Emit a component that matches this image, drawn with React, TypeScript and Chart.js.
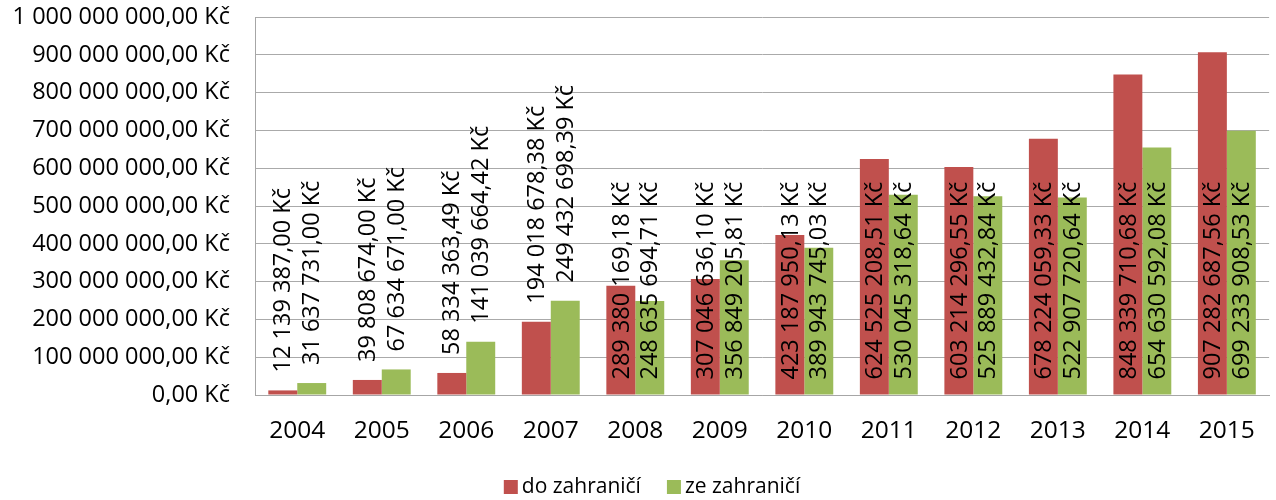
import React, { useEffect, useRef } from "react";
import { Chart, registerables } from "chart.js";

Chart.register(...registerables);

const categories = ["2004", "2005", "2006", "2007", "2008", "2009", "2010", "2011", "2012", "2013", "2014", "2015"];
const seriesNames = ["do zahraničí", "ze zahraničí"];
const doZahranici = [
  12139387.0, 39808674.0, 58334363.49, 194018678.38, 289380169.18, 307046636.1,
  423187950.13, 624525208.51, 603214296.55, 678224059.33, 848339710.68, 907282687.56,
];
const zeZahranici = [
  31637731.0, 67634671.0, 141039664.42, 249432698.39, 248635694.71, 356849205.81,
  389943745.03, 530045318.64, 525889432.84, 522907720.64, 654630592.08, 699233908.53,
];
const yMin = 0;
const yMax = 1000000000;
const yStep = 100000000;
// categories whose value labels sit at the bar base (others sit above the bar)
const insideBaseCategories = ["2008", "2009", "2010", "2011", "2012", "2013", "2014", "2015"];

const COLORS = ["#C0504D", "#9BBB59"];
const FONT = "'Open Sans', 'Liberation Sans', sans-serif";

function groupDigits(intStr: string): string {
  return intStr.replace(/\B(?=(\d{3})+(?!\d))/g, " ");
}
function formatKc(v: number): string {
  const [i, d] = Math.abs(v).toFixed(2).split(".");
  return (v < 0 ? "-" : "") + groupDigits(i) + "," + d + " Kč";
}

const valueLabelPlugin = {
  id: "valueLabels",
  afterDatasetsDraw(chart: any) {
    const ctx = chart.ctx;
    ctx.save();
    ctx.font = `23.5px ${FONT}`;
    ctx.fillStyle = "#000";
    ctx.textAlign = "left";
    ctx.textBaseline = "middle";
    chart.data.datasets.forEach((ds: any, di: number) => {
      const meta = chart.getDatasetMeta(di);
      meta.data.forEach((bar: any, i: number) => {
        const p = bar.getProps(["x", "y", "base"], true);
        const inside = insideBaseCategories.includes(chart.data.labels[i]);
        const startY = inside ? p.base - 15 : p.y - 18;
        ctx.save();
        ctx.translate(p.x, startY);
        ctx.rotate(-Math.PI / 2);
        ctx.fillText(formatKc(ds.data[i]), 0, 1);
        ctx.restore();
      });
    });
    ctx.restore();
  },
};

const customLegendPlugin = {
  id: "customLegend",
  afterDraw(chart: any) {
    const ctx = chart.ctx;
    ctx.save();
    ctx.font = `21px ${FONT}`;
    ctx.textBaseline = "middle";
    ctx.textAlign = "left";
    const box = 14;
    const gapBoxText = 4;
    const gapItems = 26;
    const cy = 487;
    const items = chart.data.datasets.map((ds: any) => ({
      label: ds.label,
      color: ds.backgroundColor,
      w: ctx.measureText(ds.label).width,
    }));
    const total = items.reduce((s: number, it: any) => s + box + gapBoxText + it.w, 0) + gapItems * (items.length - 1);
    let x = (chart.width - total) / 2 + 14;
    items.forEach((it: any) => {
      ctx.fillStyle = it.color;
      ctx.fillRect(x, cy - box / 2, box, box);
      ctx.fillStyle = "#000";
      ctx.fillText(it.label, x + box + gapBoxText, cy);
      x += box + gapBoxText + it.w + gapItems;
    });
    ctx.restore();
  },
};

export default function App() {
  const ref = useRef<HTMLCanvasElement | null>(null);
  useEffect(() => {
    if (!ref.current) return;
    Chart.defaults.font.family = FONT;
    Chart.defaults.color = "#000";
    const chart = new Chart(ref.current, {
      type: "bar",
      data: {
        labels: categories,
        datasets: [
          { label: seriesNames[0], data: doZahranici, backgroundColor: COLORS[0], barPercentage: 1, categoryPercentage: 0.685 },
          { label: seriesNames[1], data: zeZahranici, backgroundColor: COLORS[1], barPercentage: 1, categoryPercentage: 0.685 },
        ],
      },
      options: {
        animation: false,
        responsive: false,
        maintainAspectRatio: false,
        layout: { autoPadding: false, padding: { top: 17, right: 3, left: 0, bottom: 0 } },
        plugins: {
          legend: { display: false },
          tooltip: { enabled: false },
        },
        scales: {
          x: {
            grid: { display: false, drawTicks: false },
            border: { display: true, color: "#A6A6A6", width: 1 },
            ticks: { font: { size: 24.5 }, padding: 21, color: "#000", maxRotation: 0 },
            afterFit(scale: any) {
              scale.height = 105;
            },
          },
          y: {
            min: yMin,
            max: yMax,
            grid: {
              color: "#AAAAAA",
              drawTicks: true,
              tickLength: 22,
              tickColor: "rgba(0,0,0,0)",
              lineWidth: 1,
            },
            border: { display: true, color: "#A6A6A6", width: 1 },
            ticks: {
              stepSize: yStep,
              font: { size: 23.5 },
              padding: 3,
              color: "#000",
              callback: (v: any) => formatKc(Number(v)),
            },
            afterFit(scale: any) {
              scale.width = 255;
            },
          },
        },
      },
      plugins: [valueLabelPlugin, customLegendPlugin],
    });
    return () => chart.destroy();
  }, []);
  return (
    <div style={{ position: "absolute", left: 0, top: 0, width: 1276, height: 500, background: "#fff" }}>
      <canvas ref={ref} width={1276} height={500} style={{ width: 1276, height: 500 }} />
    </div>
  );
}
